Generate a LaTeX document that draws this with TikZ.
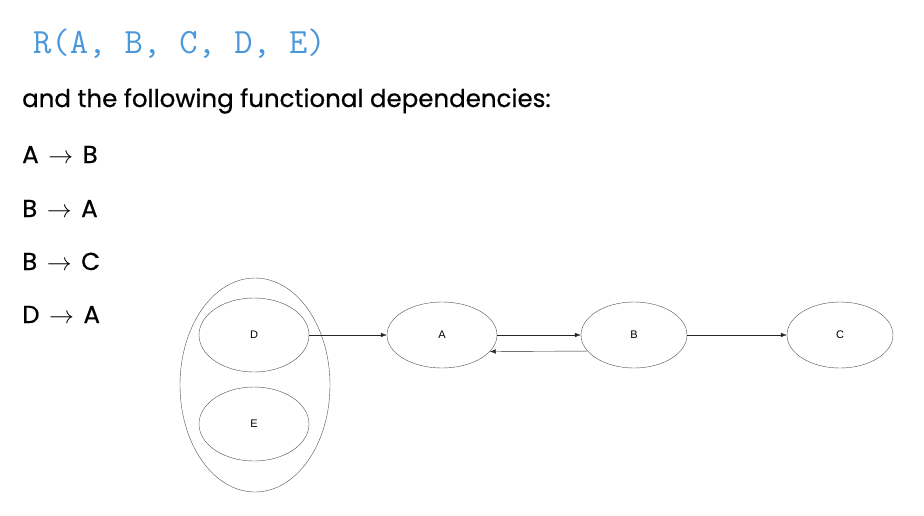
\documentclass[tikz,border=0pt]{standalone}
\usepackage{fontspec}
\setmainfont{Poppins}[FakeBold=0.6]
\newfontfamily\attrfont{Liberation Sans}
\usepackage{tikz}
\usetikzlibrary{positioning, calc, arrows.meta, shapes.geometric}
\definecolor{relblue}{RGB}{74,152,218}
\definecolor{edgegray}{RGB}{80,80,80}
\newcommand{\fdto}{\hspace{3pt}$\rightarrow$\hspace{3pt}}

\begin{document}
\begin{tikzpicture}[x=1pt, y=-1pt,
      attr/.style={draw=edgegray, ellipse, inner sep=0pt, minimum width=110pt, minimum height=66pt, font=\attrfont\fontsize{11}{13}\selectfont},
      fdline/.style={anchor=base west, inner sep=0pt, font=\fontsize{24.5}{28}\selectfont},
      arrow/.style={-{Latex[length=6pt, width=4.5pt]}, black!85}
    ]
    \useasboundingbox (0,0) rectangle (924,515);

    % Relation and dependencies (Left)
    \node[anchor=base west, inner sep=0pt, text=relblue, font=\ttfamily\fontsize{35.5}{38}\selectfont] (rel) at (33,53) {R(A, B, C, D, E)};
    \node[fdline] (intro) at (22,107) {and the following functional dependencies:};
    \node[fdline] (fd1) at (22,163) {A \fdto{} B};
    \node[fdline] (fd2) at (22,217) {B \fdto{} A};
    \node[fdline] (fd3) at (22,270) {B \fdto{} C};
    \node[fdline] (fd4) at (22,323) {D \fdto{} A};

    % Composite key {D, E}
    \node[draw=edgegray, ellipse, inner sep=0pt, minimum width=150pt, minimum height=214pt] (key) at (255,385) {};
    \node[attr, minimum height=74pt] (D) at (254,335) {D};
    \node[attr, minimum height=74pt] (E) at (254,424) {E};

    % Attribute row
    \node[attr] (A) at (442,335) {A};
    \node[attr, minimum width=106pt] (B) at (634,335) {B};
    \node[attr, minimum width=106pt] (C) at (840,335) {C};

    % Dependency arrows
    \draw[arrow] (D.east) -- (A.west);
    \draw[arrow] (A.east) -- (B.west);
    \draw[arrow] (B.199) -- (A.-19);
    \draw[arrow] (B.east) -- (C.west);

  \end{tikzpicture}
\end{document}
